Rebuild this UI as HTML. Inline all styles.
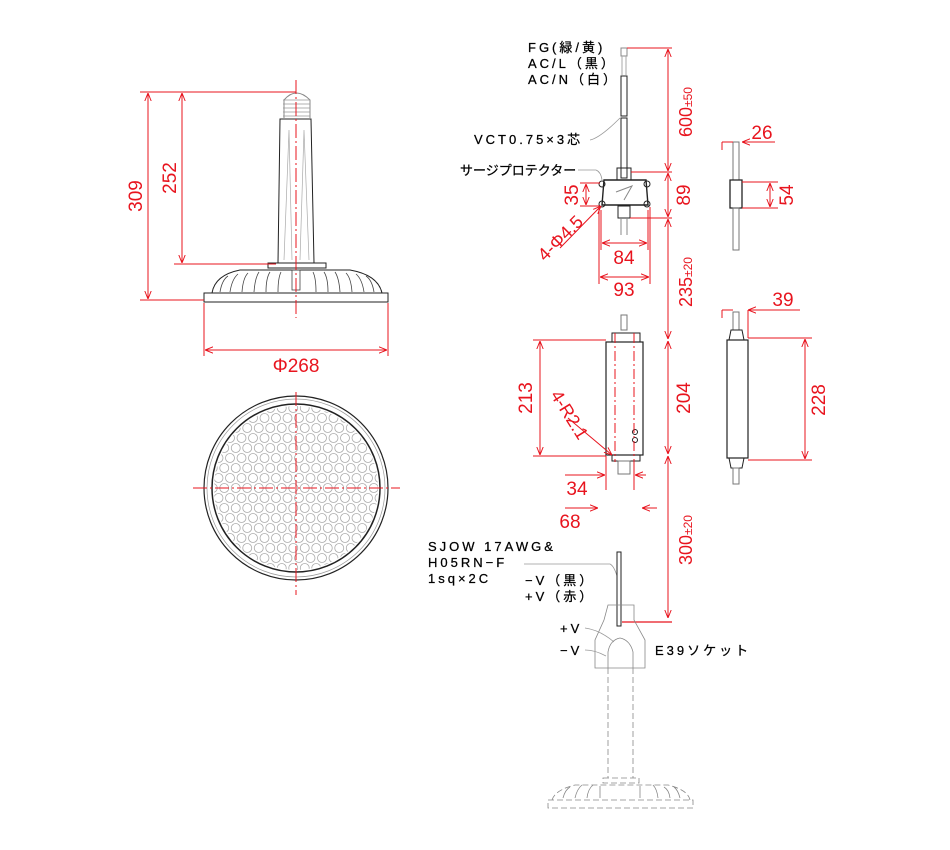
<!DOCTYPE html>
<html><head><meta charset="utf-8">
<style>
html,body{margin:0;padding:0;background:#fff;}
svg{display:block;}
.t{font-family:"Liberation Sans","Noto Sans CJK JP",sans-serif;font-size:13px;fill:#000;letter-spacing:3px;stroke:#000;stroke-width:0.25;}
.r{font-family:"Liberation Sans",sans-serif;fill:#e8141e;font-size:19px;}
</style></head><body>
<svg width="950" height="850" viewBox="0 0 950 850" xmlns="http://www.w3.org/2000/svg">
<defs>
<marker id="a" viewBox="0 0 10 10" refX="10" refY="5" markerWidth="8" markerHeight="8" orient="auto-start-reverse"><path d="M0,1 L10,5 L0,9" fill="none" stroke="#e8141e" stroke-width="1.2"/></marker>
<pattern id="dots" x="0" y="3" width="11.5" height="20" patternUnits="userSpaceOnUse">
<circle cx="5.75" cy="5" r="4.5" fill="none" stroke="#aaa" stroke-width="0.8"/>
<circle cx="0" cy="15" r="4.5" fill="none" stroke="#aaa" stroke-width="0.8"/>
<circle cx="11.5" cy="15" r="4.5" fill="none" stroke="#aaa" stroke-width="0.8"/>
</pattern>
<clipPath id="cc"><circle cx="296" cy="488" r="82"/></clipPath>
</defs>

<!-- ===== TOP LEFT LAMP ===== -->
<g stroke="#222" fill="none" stroke-width="1">
<path d="M284,118 L284,100 Q296,86 310,100 L310,118" stroke="#888"/>
<g stroke="#999" stroke-width="0.8">
<line x1="283" y1="100" x2="310" y2="100"/><line x1="283" y1="104" x2="310" y2="104"/><line x1="283" y1="108" x2="310" y2="108"/><line x1="283" y1="112" x2="310" y2="112"/><line x1="283" y1="116" x2="310" y2="116"/>
</g>
<path d="M280,119 L311,119 L314,263 L278,263 Z"/>
<g stroke="#aaa" stroke-width="0.7"><path d="M284,260 L289,130 L292,260"/><path d="M300,260 L304,130 L309,260"/></g>
<rect x="268" y="263" width="58" height="5"/>
<path d="M212,293 Q215,275 240,270 L350,270 Q378,275 382,293" />
<g stroke="#444" stroke-width="0.8">
<path d="M220,292 Q222,280 228,276"/><path d="M230,292 Q232,279 238,274"/><path d="M242,292 Q243,278 248,273"/><path d="M254,292 Q255,278 259,272"/><path d="M266,292 Q266,278 270,272"/><path d="M278,292 Q278,278 281,272"/>
<path d="M374,292 Q372,280 366,276"/><path d="M364,292 Q362,279 356,274"/><path d="M352,292 Q351,278 346,273"/><path d="M340,292 Q339,278 335,272"/><path d="M328,292 Q328,278 324,272"/><path d="M316,292 Q316,278 313,272"/>
<rect x="292" y="270" width="8" height="20"/>
</g>
<rect x="204" y="293" width="184" height="9"/>
</g>
<line x1="296" y1="80" x2="296" y2="318" stroke="#e8141e" stroke-width="1" stroke-dasharray="14,3,2,3"/>
<g stroke="#e8141e" stroke-width="1" fill="none">
<line x1="140" y1="92" x2="296" y2="92"/>
<line x1="140" y1="300" x2="204" y2="300"/>
<line x1="174" y1="264" x2="276" y2="264"/>
<line x1="148" y1="93" x2="148" y2="299" marker-start="url(#a)" marker-end="url(#a)"/>
<line x1="182" y1="93" x2="182" y2="263" marker-start="url(#a)" marker-end="url(#a)"/>
<line x1="204" y1="303" x2="204" y2="356"/><line x1="388" y1="303" x2="388" y2="356"/>
<line x1="205" y1="350" x2="387" y2="350" marker-start="url(#a)" marker-end="url(#a)"/>
</g>
<text class="r" transform="translate(142,196) rotate(-90)" text-anchor="middle">309</text>
<text class="r" transform="translate(176,178) rotate(-90)" text-anchor="middle">252</text>
<text class="r" x="296" y="372" text-anchor="middle">Φ268</text>

<!-- ===== BOTTOM CIRCLE ===== -->
<g fill="none">
<circle cx="296" cy="488" r="92" stroke="#222" stroke-width="1.2"/>
<circle cx="296" cy="488" r="89" stroke="#999" stroke-width="0.7"/>
<circle cx="296" cy="488" r="84" stroke="#222" stroke-width="1.5"/>
<g clip-path="url(#cc)"><rect x="200" y="400" width="200" height="180" fill="url(#dots)"/></g>
</g>
<g stroke="#e8141e" stroke-width="1" stroke-dasharray="14,3,2,3">
<line x1="296" y1="392" x2="296" y2="595"/>
<line x1="193" y1="488" x2="400" y2="488"/>
</g>

<!-- ===== RIGHT: WIRE + PROTECTOR ===== -->
<g stroke="#222" fill="none" stroke-width="1">
<rect x="621" y="48" width="6" height="8" stroke="#888"/>
<line x1="622" y1="56" x2="622" y2="75" stroke="#aaa"/><line x1="626" y1="56" x2="626" y2="75" stroke="#aaa"/>
<rect x="621" y="76" width="6" height="40"/>
<rect x="621" y="118" width="6" height="60"/>
<rect x="617" y="168" width="14" height="12"/>
<path d="M604,180 L646,180 L648,205 L602,205 Z" stroke-width="1.4"/>
<circle cx="602" cy="184" r="3"/><circle cx="647" cy="184" r="3"/><circle cx="602" cy="204" r="3"/><circle cx="647" cy="204" r="3"/>
<path d="M616,192 L632,186 L624,200" stroke="#888"/>
<rect x="618" y="206" width="12" height="12"/>
<line x1="621" y1="218" x2="621" y2="235" stroke="#888"/><line x1="627" y1="218" x2="627" y2="235" stroke="#888"/>
</g>
<text class="t" x="528" y="52">FG(緑/黄)</text>
<text class="t" x="528" y="68">AC/L（黒）</text>
<text class="t" x="528" y="84">AC/N（白）</text>
<text class="t" x="474" y="144">VCT0.75×3芯</text>
<path d="M590,140 Q600,138 620,118" stroke="#999" fill="none" stroke-width="0.8"/>
<text class="t" x="460" y="175" style="letter-spacing:0">サージプロテクター</text>
<path d="M578,170 L596,170 Q601,172 602,180" stroke="#999" fill="none" stroke-width="0.8"/>

<g stroke="#e8141e" stroke-width="1" fill="none">
<line x1="627" y1="48" x2="672" y2="48"/>
<line x1="631" y1="172" x2="672" y2="172"/>
<line x1="630" y1="218" x2="672" y2="218"/>
<line x1="668" y1="49" x2="668" y2="171" marker-start="url(#a)" marker-end="url(#a)"/>
<line x1="668" y1="173" x2="668" y2="217" marker-start="url(#a)" marker-end="url(#a)"/>
<line x1="668" y1="219" x2="668" y2="339" marker-start="url(#a)" marker-end="url(#a)"/>
<line x1="668" y1="341" x2="668" y2="454" marker-start="url(#a)" marker-end="url(#a)"/>
<line x1="668" y1="456" x2="668" y2="618" marker-start="url(#a)" marker-end="url(#a)"/>
<line x1="580" y1="183" x2="600" y2="183"/><line x1="580" y1="206" x2="600" y2="206"/>
<line x1="586" y1="184" x2="586" y2="205" marker-start="url(#a)" marker-end="url(#a)"/>
<line x1="599" y1="207" x2="599" y2="284"/><line x1="650" y1="207" x2="650" y2="284"/>
<line x1="601" y1="210" x2="601" y2="250"/><line x1="648" y1="210" x2="648" y2="250"/>
<line x1="602" y1="243" x2="647" y2="243" marker-start="url(#a)" marker-end="url(#a)"/>
<line x1="600" y1="277" x2="649" y2="277" marker-start="url(#a)" marker-end="url(#a)"/>
<line x1="560" y1="248" x2="601" y2="206" marker-end="url(#a)"/>
</g>
<text class="r" transform="translate(692,112) rotate(-90)" text-anchor="middle" style="font-size:18px">600<tspan style="font-size:12px">±50</tspan></text>
<text class="r" transform="translate(690,195) rotate(-90)" text-anchor="middle">89</text>
<text class="r" transform="translate(692,282) rotate(-90)" text-anchor="middle" style="font-size:18px">235<tspan style="font-size:12px">±20</tspan></text>
<text class="r" transform="translate(690,398) rotate(-90)" text-anchor="middle">204</text>
<text class="r" transform="translate(692,540) rotate(-90)" text-anchor="middle" style="font-size:18px">300<tspan style="font-size:12px">±20</tspan></text>
<text class="r" transform="translate(578,195) rotate(-90)" text-anchor="middle">35</text>
<text class="r" x="624" y="264" text-anchor="middle">84</text>
<text class="r" x="624" y="296" text-anchor="middle">93</text>
<text class="r" transform="translate(545,262) rotate(-45)" style="font-size:18px">4-Φ4.5</text>

<g stroke="#222" fill="none" stroke-width="1">
<rect x="733" y="142" width="6" height="38" stroke="#777"/>
<path d="M730,180 L742,180 L742,208 L730,208 Z" stroke-width="1.3"/>
<rect x="733" y="208" width="6" height="42" stroke="#777"/>
</g>
<g stroke="#e8141e" stroke-width="1" fill="none">
<line x1="722" y1="142" x2="733" y2="142"/><line x1="722" y1="142" x2="722" y2="150"/>
<line x1="742" y1="142" x2="775" y2="142" marker-start="url(#a)"/>
<line x1="742" y1="182" x2="778" y2="182"/><line x1="742" y1="208" x2="778" y2="208"/>
<line x1="770" y1="183" x2="770" y2="207" marker-start="url(#a)" marker-end="url(#a)"/>
</g>
<text class="r" x="762" y="139" text-anchor="middle">26</text>
<text class="r" transform="translate(793,195) rotate(-90)" text-anchor="middle">54</text>

<g stroke="#222" fill="none" stroke-width="1">
<rect x="621" y="315" width="6" height="15" stroke="#777"/>
<path d="M612,342 L612,333 L640,333 L640,342"/>
<rect x="606" y="342" width="37" height="113" stroke-width="1.2"/>
<path d="M612,455 L612,461 L640,461 L640,455"/>
<rect x="618" y="461" width="12" height="13" stroke="#777"/>
<circle cx="635" cy="432" r="2.5"/><circle cx="635" cy="440" r="2.5"/>
</g>
<g stroke="#e8141e" stroke-width="1" stroke-dasharray="10,3,2,3"><line x1="615" y1="333" x2="615" y2="462"/><line x1="634" y1="333" x2="634" y2="462"/></g>
<g stroke="#e8141e" stroke-width="1" fill="none">
<line x1="533" y1="340" x2="606" y2="340"/><line x1="533" y1="456" x2="606" y2="456"/>
<line x1="540" y1="341" x2="540" y2="455" marker-start="url(#a)" marker-end="url(#a)"/>
<line x1="606" y1="456" x2="606" y2="490"/><line x1="634" y1="462" x2="634" y2="490"/>
<line x1="565" y1="475" x2="605" y2="475" marker-end="url(#a)"/><line x1="646" y1="475" x2="635" y2="475" marker-end="url(#a)"/>
<line x1="565" y1="508" x2="598" y2="508" marker-end="url(#a)"/><line x1="657" y1="508" x2="642" y2="508" marker-end="url(#a)"/>
<line x1="568" y1="418" x2="612" y2="455" marker-end="url(#a)"/>
</g>
<text class="r" transform="translate(532,398) rotate(-90)" text-anchor="middle">213</text>
<text class="r" transform="translate(550,395) rotate(58)" style="font-size:18px">4-R2.1</text>
<text class="r" x="577" y="495" text-anchor="middle">34</text>
<text class="r" x="570" y="528" text-anchor="middle">68</text>

<g stroke="#222" fill="none" stroke-width="1">
<rect x="733" y="312" width="6" height="18" stroke="#777"/>
<path d="M729,340 L731,330 L742,330 L744,340"/>
<rect x="727" y="340" width="21" height="118" stroke-width="1.2"/>
<path d="M729,458 L731,468 L742,468 L744,458"/>
<rect x="733" y="468" width="6" height="16" stroke="#777"/>
</g>
<g stroke="#e8141e" stroke-width="1" fill="none">
<line x1="722" y1="310" x2="733" y2="310"/><line x1="722" y1="310" x2="722" y2="318"/>
<line x1="748" y1="310" x2="800" y2="310" marker-start="url(#a)"/><line x1="748" y1="310" x2="748" y2="338"/>
<line x1="748" y1="338" x2="812" y2="338"/><line x1="748" y1="460" x2="812" y2="460"/>
<line x1="805" y1="339" x2="805" y2="459" marker-start="url(#a)" marker-end="url(#a)"/>
</g>
<text class="r" x="783" y="306" text-anchor="middle">39</text>
<text class="r" transform="translate(825,400) rotate(-90)" text-anchor="middle">228</text>

<text class="t" x="428" y="551">SJOW 17AWG&amp;</text>
<text class="t" x="428" y="567">H05RN−F</text>
<text class="t" x="428" y="583">1sq×2C</text>
<text class="t" x="525" y="585">−V（黒）</text>
<text class="t" x="525" y="601">+V（赤）</text>
<path d="M524,564 L610,564 Q614,566 617,576" stroke="#999" fill="none" stroke-width="0.8"/>
<g stroke="#222" fill="none" stroke-width="1">
<rect x="617" y="552" width="4" height="74"/>
</g>
<line x1="622" y1="622" x2="672" y2="622" stroke="#e8141e" stroke-width="1.2"/>
<g stroke="#888" fill="none" stroke-width="0.8">
<path d="M608,605 L634,605 L634,620 L645,640 L645,668 L595,668 L595,640 L604,620 Z"/>
<path d="M608,668 L608,652 Q610,640 620,638 Q630,640 633,652 L633,668"/>
<g stroke-dasharray="6,3">
<line x1="608" y1="668" x2="608" y2="778"/><line x1="633" y1="668" x2="633" y2="778"/>
<rect x="603" y="778" width="36" height="5"/>
<path d="M552,800 Q555,790 575,785 L668,785 Q688,790 690,800"/>
<rect x="548" y="800" width="145" height="8"/>
</g>
<path d="M563,798 Q565,790 570,787 M575,798 Q577,789 582,785 M587,798 Q588,789 593,785 M658,798 Q657,789 653,785 M670,798 Q669,790 664,787 M680,798 Q678,790 674,787 M600,798 L600,786 M640,798 L640,786"/>
</g>
<text class="t" x="560" y="633">+V</text>
<text class="t" x="560" y="655">−V</text>
<path d="M585,628 Q600,630 614,642" stroke="#999" fill="none" stroke-width="0.8"/>
<path d="M585,650 Q595,650 606,656" stroke="#999" fill="none" stroke-width="0.8"/>
<text class="t" x="655" y="655">E39ソケット</text>
</svg>
</body></html>
